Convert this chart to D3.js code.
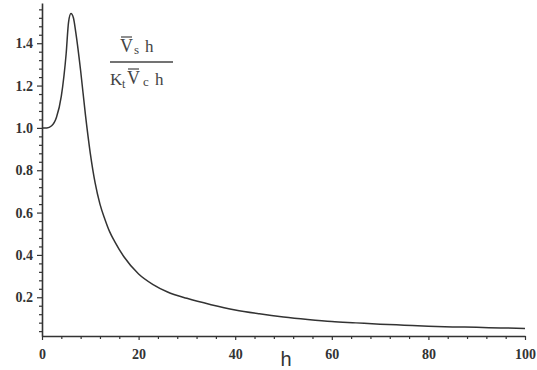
<!DOCTYPE html>
<html>
<head>
<meta charset="utf-8">
<script src="https://cdn.jsdelivr.net/npm/d3@7"></script>
<style>
  body { margin: 0; background: #fff; }
  svg { display: block; }
</style>
</head>
<body>
<svg id="chart" width="537" height="370"></svg>
<script>
// values
const hValues = [0, 1, 2, 3, 4, 5, 5.5, 6, 6.5, 7, 8, 9, 10, 11, 12, 13, 14, 15, 17, 20, 23, 26, 30, 35, 40, 45, 50, 55, 60, 65, 70, 75, 80, 85, 90, 95, 100];
const ratioValues = [1.00, 1.00, 1.01, 1.05, 1.15, 1.35, 1.50, 1.54, 1.52, 1.45, 1.27, 1.06, 0.88, 0.74, 0.64, 0.57, 0.51, 0.465, 0.39, 0.31, 0.26, 0.225, 0.195, 0.165, 0.14, 0.122, 0.107, 0.095, 0.085, 0.079, 0.073, 0.068, 0.063, 0.060, 0.058, 0.055, 0.053];
const xTicks = [0, 20, 40, 60, 80, 100];
const yTicks = [0.2, 0.4, 0.6, 0.8, 1.0, 1.2, 1.4];

const ink = '#333';
const serif = '"Liberation Serif", "DejaVu Serif", serif';
const svg = d3.select('#chart');

const x = d3.scaleLinear().domain([0, 100]).range([42, 525]);
const y = d3.scaleLinear().domain([0.017, 1.59]).range([336, 3]);

const xMinor = d3.range(0, 101, 4).filter((d) => d % 20 !== 0);
const yMinor = d3.range(0.04, 1.59, 0.04).filter((d) => Math.abs(d / 0.2 - Math.round(d / 0.2)) > 1e-6);

// x axis
const xAxisG = svg.append('g').attr('transform', `translate(0,${y.range()[0]})`);
xAxisG.call(d3.axisBottom(x).tickValues(xTicks).tickSize(4).tickSizeOuter(0)
  .tickFormat((d) => d3.format('d')(d)));
xAxisG.append('g').call(d3.axisBottom(x).tickValues(xMinor).tickSize(3).tickFormat(''))
  .select('.domain').remove();

// y axis
const yAxisG = svg.append('g').attr('transform', `translate(${x.range()[0]},0)`);
yAxisG.call(d3.axisLeft(y).tickValues(yTicks).tickSize(5).tickSizeOuter(0)
  .tickFormat(d3.format('.1f')));
yAxisG.append('g').call(d3.axisLeft(y).tickValues(yMinor).tickSize(3).tickFormat(''))
  .select('.domain').remove();

svg.selectAll('.domain').attr('stroke', ink).attr('stroke-width', 1.6);
svg.selectAll('.tick line').attr('stroke', ink).attr('stroke-width', 1.2);
[xAxisG, yAxisG].forEach((g) => g
  .attr('font-family', serif)
  .attr('font-size', 14)
  .attr('font-weight', 'bold'));
svg.selectAll('.tick text').attr('fill', ink);
xAxisG.selectAll('.tick text').attr('dy', '1.15em');
yAxisG.selectAll('.tick text').attr('x', -9);

// curve
const pts = hValues.map((h, i) => [h, ratioValues[i]]);
svg.append('path')
  .datum(pts)
  .attr('fill', 'none')
  .attr('stroke', ink)
  .attr('stroke-width', 1.5)
  .attr('d', d3.line()
    .x((d) => x(d[0]))
    .y((d) => y(d[1]))
    .curve(d3.curveMonotoneX));

// axis label
svg.append('text')
  .attr('x', 286)
  .attr('y', 366)
  .attr('text-anchor', 'middle')
  .attr('fill', ink)
  .style('font-family', '"Liberation Sans", Arial, sans-serif')
  .style('font-size', '20px')
  .text('h');

// fraction label
const frac = svg.append('g').attr('fill', '#444').style('font-family', serif);

function piece(g, txt, px, py, size) {
  return g.append('text').attr('x', px).attr('y', py).style('font-size', size + 'px').text(txt);
}
function overline(t) {
  const b = t.node().getBBox();
  frac.append('line')
    .attr('x1', b.x + 1).attr('x2', b.x + b.width - 1)
    .attr('y1', b.y + 1).attr('y2', b.y + 1)
    .attr('stroke', '#444').attr('stroke-width', 1.2);
}

const vTop = piece(frac, 'V', 120, 52, 18);
overline(vTop);
piece(frac, 's', 134, 54, 13);
piece(frac, 'h', 145, 52, 17);

frac.append('line')
  .attr('x1', 110).attr('x2', 173).attr('y1', 62).attr('y2', 62)
  .attr('stroke', '#444').attr('stroke-width', 1.4);

piece(frac, 'K', 110, 85, 17);
piece(frac, 't', 122, 88, 12);
const vBot = piece(frac, 'V', 127, 84, 18);
overline(vBot);
piece(frac, 'c', 143, 86, 13);
piece(frac, 'h', 155, 85, 17);
</script>
</body>
</html>
